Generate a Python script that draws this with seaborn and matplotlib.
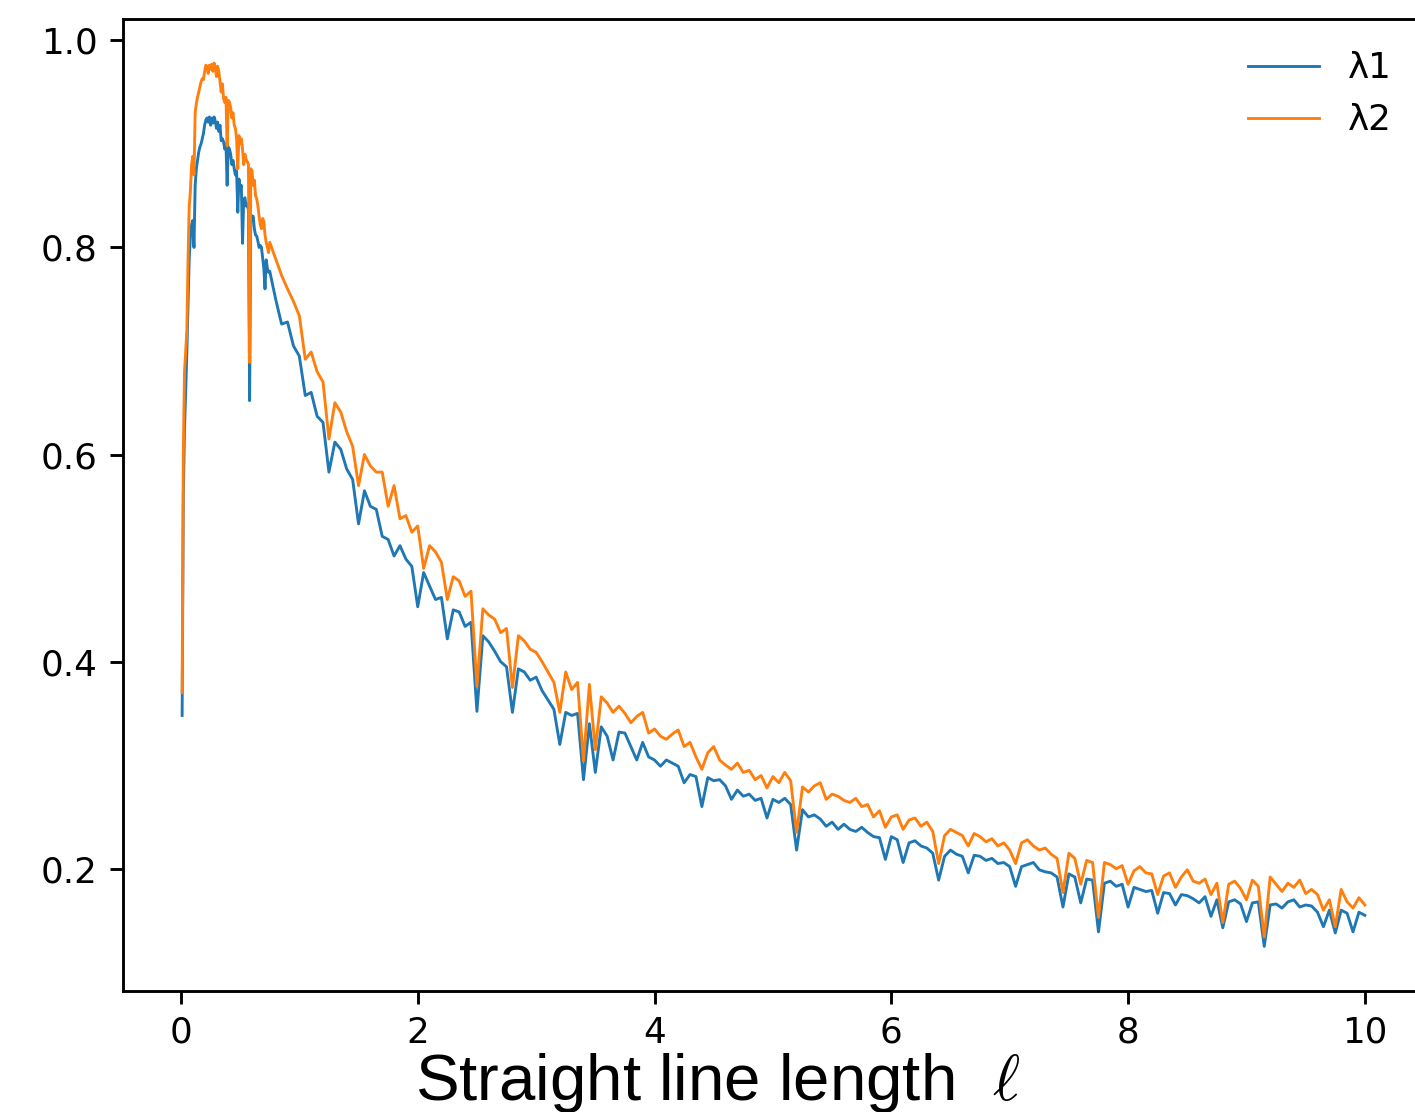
import numpy as np
import pandas as pd
import matplotlib
matplotlib.use("Agg")
import matplotlib.pyplot as plt
import seaborn as sns

# ---- data ----
# fine part: x = 0.01 .. 0.74 (step 0.01)
lam1_fine = [
    0.348, 0.560, 0.625, 0.660, 0.700, 0.745, 0.790, 0.810, 0.822, 0.826,
    0.800, 0.860, 0.876, 0.884, 0.892, 0.897, 0.900, 0.905, 0.910, 0.918,
    0.923, 0.925, 0.921, 0.926, 0.918, 0.925, 0.920, 0.926, 0.922, 0.915,
    0.921, 0.912, 0.918, 0.903, 0.905, 0.902, 0.895, 0.900, 0.860, 0.897,
    0.895, 0.890, 0.880, 0.884, 0.876, 0.870, 0.874, 0.834, 0.866, 0.857,
    0.860, 0.804, 0.846, 0.848, 0.840, 0.842, 0.836, 0.652, 0.832, 0.828,
    0.830, 0.818, 0.812, 0.811, 0.806, 0.800, 0.802, 0.800, 0.790, 0.780,
    0.760, 0.788, 0.780, 0.776,
]
lam2_fine = [
    0.370, 0.600, 0.680, 0.700, 0.720, 0.790, 0.840, 0.855, 0.880, 0.888,
    0.870, 0.930, 0.939, 0.945, 0.950, 0.955, 0.960, 0.963, 0.962, 0.970,
    0.976, 0.975, 0.968, 0.976, 0.972, 0.977, 0.970, 0.978, 0.974, 0.965,
    0.975, 0.970, 0.960, 0.950, 0.958, 0.944, 0.940, 0.945, 0.898, 0.942,
    0.940, 0.935, 0.925, 0.930, 0.918, 0.915, 0.905, 0.876, 0.908, 0.900,
    0.905, 0.895, 0.880, 0.890, 0.885, 0.883, 0.880, 0.689, 0.876, 0.874,
    0.860, 0.865, 0.850, 0.847, 0.840, 0.830, 0.822, 0.818, 0.828, 0.825,
    0.812, 0.805, 0.800, 0.795,
]
# coarse part: x = 0.75 .. 10.00 (step 0.05)
lam1_coarse = [
    0.777, 0.750, 0.726, 0.728, 0.705, 0.695, 0.657, 0.660, 0.637, 0.631,
    0.583, 0.612, 0.605, 0.586, 0.576, 0.533, 0.565, 0.550, 0.547, 0.521,
    0.518, 0.502, 0.512, 0.499, 0.492, 0.453, 0.486, 0.473, 0.460, 0.462,
    0.422, 0.450, 0.448, 0.434, 0.438, 0.352, 0.425, 0.419, 0.410, 0.400,
    0.395, 0.351, 0.393, 0.390, 0.382, 0.385, 0.372, 0.363, 0.354, 0.320,
    0.351, 0.348, 0.350, 0.286, 0.340, 0.293, 0.337, 0.328, 0.305, 0.332,
    0.331, 0.318, 0.305, 0.322, 0.308, 0.305, 0.299, 0.305, 0.302, 0.299,
    0.283, 0.291, 0.289, 0.260, 0.288, 0.285, 0.286, 0.280, 0.267, 0.276,
    0.270, 0.272, 0.266, 0.268, 0.249, 0.267, 0.264, 0.268, 0.262, 0.218,
    0.257, 0.250, 0.252, 0.248, 0.241, 0.245, 0.238, 0.243, 0.238, 0.236,
    0.240, 0.235, 0.231, 0.230, 0.209, 0.231, 0.228, 0.206, 0.225, 0.227,
    0.222, 0.220, 0.215, 0.189, 0.212, 0.218, 0.214, 0.212, 0.196, 0.213,
    0.212, 0.208, 0.210, 0.205, 0.206, 0.202, 0.183, 0.202, 0.204, 0.206,
    0.199, 0.197, 0.196, 0.192, 0.163, 0.195, 0.192, 0.167, 0.190, 0.189,
    0.139, 0.186, 0.188, 0.183, 0.185, 0.163, 0.182, 0.180, 0.178, 0.179,
    0.157, 0.177, 0.176, 0.165, 0.175, 0.174, 0.171, 0.167, 0.173, 0.154,
    0.170, 0.143, 0.168, 0.170, 0.166, 0.149, 0.167, 0.168, 0.125, 0.165,
    0.166, 0.162, 0.168, 0.170, 0.163, 0.165, 0.164, 0.158, 0.144, 0.160,
    0.138, 0.160, 0.157, 0.139, 0.158, 0.155,
]
lam2_coarse = [
    0.805, 0.789, 0.773, 0.760, 0.748, 0.734, 0.692, 0.699, 0.680, 0.670,
    0.615, 0.650, 0.641, 0.622, 0.608, 0.570, 0.600, 0.589, 0.583, 0.583,
    0.550, 0.570, 0.538, 0.541, 0.525, 0.531, 0.490, 0.512, 0.506, 0.496,
    0.460, 0.482, 0.478, 0.463, 0.468, 0.376, 0.451, 0.445, 0.441, 0.428,
    0.432, 0.375, 0.425, 0.420, 0.412, 0.409, 0.400, 0.390, 0.380, 0.351,
    0.390, 0.373, 0.380, 0.304, 0.378, 0.315, 0.366, 0.360, 0.351, 0.357,
    0.350, 0.341, 0.347, 0.351, 0.331, 0.335, 0.328, 0.325, 0.330, 0.334,
    0.318, 0.322, 0.308, 0.296, 0.312, 0.318, 0.305, 0.300, 0.296, 0.302,
    0.293, 0.295, 0.286, 0.290, 0.278, 0.289, 0.283, 0.293, 0.285, 0.235,
    0.279, 0.274, 0.280, 0.283, 0.267, 0.272, 0.270, 0.266, 0.264, 0.268,
    0.260, 0.262, 0.250, 0.256, 0.240, 0.250, 0.252, 0.238, 0.247, 0.249,
    0.241, 0.245, 0.236, 0.205, 0.232, 0.238, 0.235, 0.232, 0.222, 0.234,
    0.231, 0.226, 0.229, 0.222, 0.225, 0.218, 0.205, 0.225, 0.228, 0.222,
    0.218, 0.220, 0.214, 0.210, 0.177, 0.215, 0.210, 0.185, 0.208, 0.206,
    0.153, 0.206, 0.204, 0.200, 0.203, 0.185, 0.198, 0.202, 0.196, 0.195,
    0.175, 0.193, 0.196, 0.182, 0.192, 0.199, 0.188, 0.186, 0.190, 0.175,
    0.186, 0.148, 0.185, 0.188, 0.181, 0.170, 0.189, 0.183, 0.134, 0.192,
    0.185, 0.178, 0.186, 0.182, 0.189, 0.176, 0.180, 0.175, 0.160, 0.170,
    0.144, 0.180, 0.168, 0.162, 0.172, 0.165,
]
series_labels = ["λ1", "λ2"]
colors = ["#1f77b4", "#ff7f0e"]
xlabel_text = "Straight line length  $\\ell$"

x_fine = np.round(0.01 * np.arange(1, len(lam1_fine) + 1), 2)
x_coarse = np.round(0.75 + 0.05 * np.arange(len(lam1_coarse)), 2)
x = np.concatenate([x_fine, x_coarse])
y1 = np.array(lam1_fine + lam1_coarse)
y2 = np.array(lam2_fine + lam2_coarse)

df = pd.concat([
    pd.DataFrame({"l": x, "value": y1, "series": series_labels[0]}),
    pd.DataFrame({"l": x, "value": y2, "series": series_labels[1]}),
], ignore_index=True)

plt.rcParams["mathtext.fontset"] = "cm"
plt.rcParams["font.size"] = 9.3
plt.rcParams["axes.linewidth"] = 0.75
plt.rcParams["xtick.major.size"] = 3.25
plt.rcParams["ytick.major.size"] = 3.25
plt.rcParams["xtick.major.width"] = 0.75
plt.rcParams["ytick.major.width"] = 0.75
plt.rcParams["xtick.major.pad"] = 3.25
plt.rcParams["ytick.major.pad"] = 3.25

DPI = 277
fig = plt.figure(figsize=(1415 / DPI, 1112 / DPI), dpi=DPI)
ax = fig.add_axes([123 / 1415, (1112 - 990.5) / 1112,
                   (1424 - 123) / 1415, (990.5 - 19) / 1112])

sns.lineplot(data=df, x="l", y="value", hue="series", palette=colors,
             estimator=None, sort=True, linewidth=0.75, ax=ax)

ax.set_xlim(-0.4895, 10.4995)
ax.set_ylim(0.0824, 1.0206)
ax.set_xticks([0, 2, 4, 6, 8, 10])
ax.set_yticks([0.2, 0.4, 0.6, 0.8, 1.0])
ax.set_ylabel("")
ax.set_xlabel(xlabel_text, fontsize=17, family=["Liberation Sans", "DejaVu Sans"])
ax.xaxis.set_label_coords((717.5 - 123) / (1424 - 123), -(1100 - 990.5) / (990.5 - 19))
ax.xaxis.label.set_verticalalignment("baseline")

handles, labels = ax.get_legend_handles_labels()
ax.legend(handles, labels, loc="upper right", frameon=False)

fig.savefig("out.png", dpi=DPI)
